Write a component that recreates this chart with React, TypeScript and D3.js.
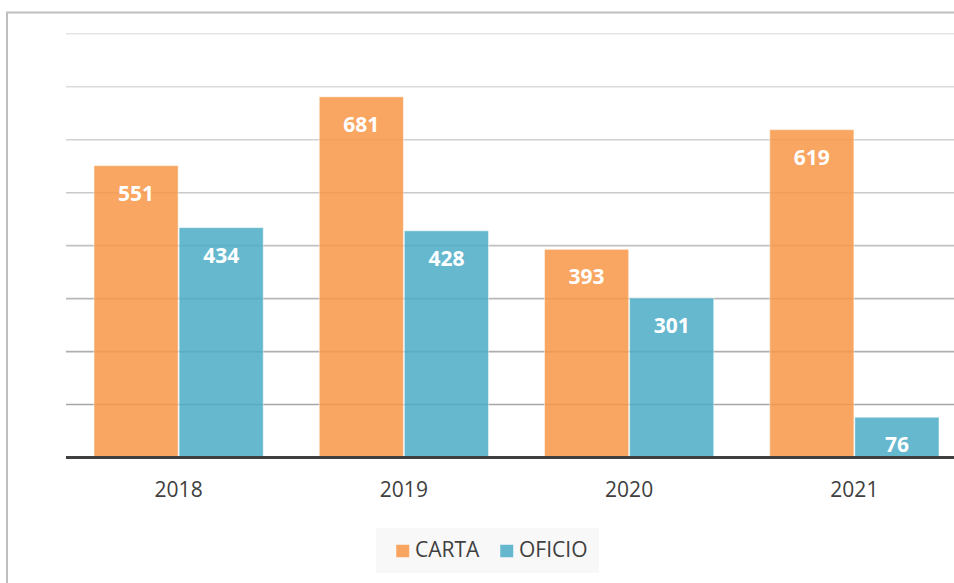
import React from "react";
import * as d3 from "d3";

const categories = ["2018", "2019", "2020", "2021"];
const seriesNames = ["CARTA", "OFICIO"];
const carta = [551, 681, 393, 619];
const oficio = [434, 428, 301, 76];
const yTicks = [100, 200, 300, 400, 500, 600, 700, 800];
const colors = ["#F79646", "#4BACC6"];

export default function App() {
  const W = 954, H = 583;
  const x0 = d3.scaleBand().domain(categories).range([66, 967]).paddingInner(0.2444).paddingOuter(0.1222);
  const x1 = d3.scaleBand().domain(seriesNames).range([0, x0.bandwidth()]).padding(0);
  const y = d3.scaleLinear().domain([0, 800]).range([457.5, 33.8]);
  const gridColor = d3.scaleLinear<string>().domain([100, 800]).range(["#a6a6a6", "#e4e4e4"]);
  const values = [carta, oficio];
  const font = "'Open Sans', sans-serif";
  return (
    <svg width={W} height={H} style={{ position: "absolute", left: 0, top: 0 }}>
      <rect x={0} y={0} width={W} height={H} fill="#fff" />
      <rect x={7} y={12.5} width={W + 20} height={H + 20} fill="none" stroke="#bfbfbf" strokeWidth={2} />
      {yTicks.map((t) => (
        <line key={t} x1={66} x2={W} y1={y(t)} y2={y(t)} stroke={gridColor(t)} strokeWidth={1.6} />
      ))}
      {categories.map((c, i) => (
        <g key={c} transform={`translate(${x0(c)},0)`}>
          {seriesNames.map((s, j) => {
            const v = values[j][i];
            const bx = x1(s)!;
            const bw = x1.bandwidth();
            return (
              <g key={s}>
                <rect
                  x={bx + 0.5}
                  y={y(v)}
                  width={bw - 1}
                  height={y(0) - y(v)}
                  fill={colors[j]}
                  fillOpacity={0.85}
                  stroke="#ffffff"
                  strokeOpacity={0.45}
                  strokeWidth={1}
                />
                <text
                  x={bx + bw / 2}
                  y={y(v) + 35}
                  textAnchor="middle"
                  fill="#fff"
                  fontFamily={font}
                  fontWeight="bold"
                  fontSize={21}
                >
                  {v}
                </text>
              </g>
            );
          })}
          <text x={x0.bandwidth() / 2} y={496.5} textAnchor="middle" fill="#404040" fontFamily={font} fontSize={21}>
            {c}
          </text>
        </g>
      ))}
      <line x1={66} x2={W} y1={y(0)} y2={y(0)} stroke="#404040" strokeWidth={3} />
      <rect x={376} y={528} width={223} height={45} fill="#f8f8f8" />
      {seriesNames.map((s, j) => {
        const lx = [396, 500][j];
        return (
          <g key={s}>
            <rect x={lx} y={544.5} width={13.5} height={13} fill={colors[j]} fillOpacity={0.85} stroke="#fff" strokeOpacity={0.45} />
            <text x={lx + 19} y={556.5} fill="#404040" fontFamily={font} fontSize={21}>
              {s}
            </text>
          </g>
        );
      })}
    </svg>
  );
}
